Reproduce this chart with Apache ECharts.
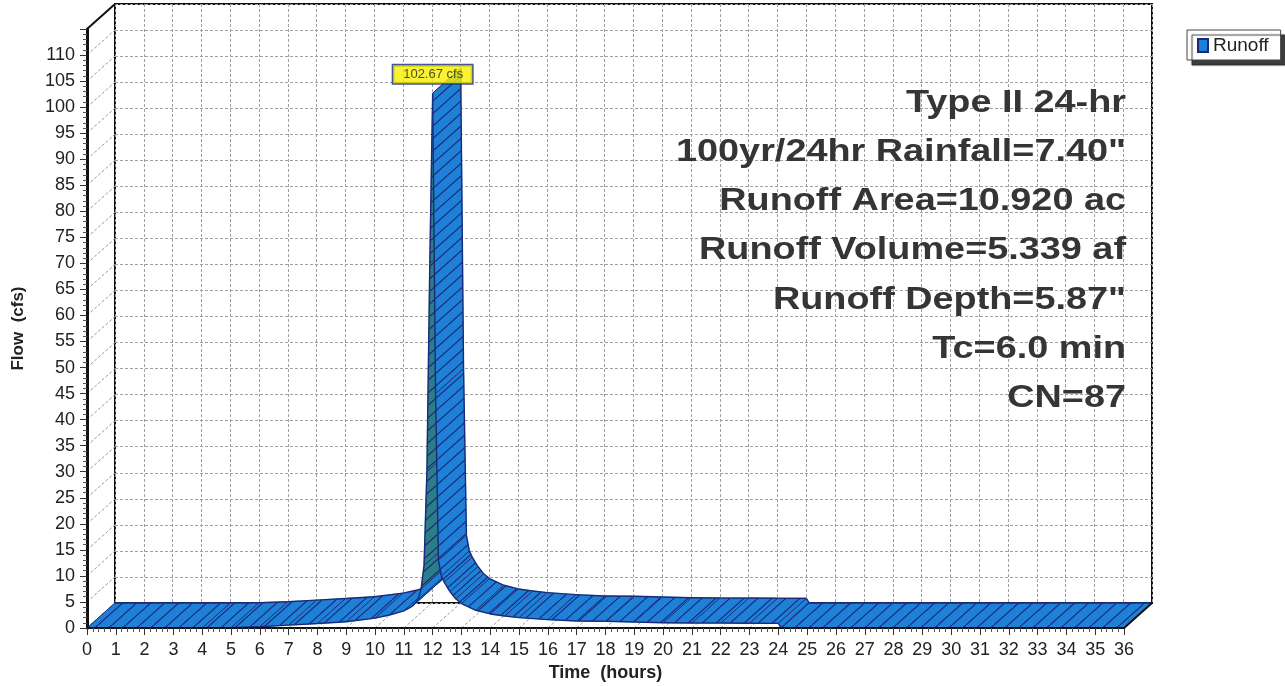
<!DOCTYPE html>
<html><head><meta charset="utf-8">
<script src="https://cdn.jsdelivr.net/npm/echarts@6/dist/echarts.min.js"></script>
<style>html,body{margin:0;padding:0;background:#fff}#c{width:1285px;height:686px}</style>
</head><body><div id="c"></div>
<script>
// ---- data ----
const hours  = [0, 4, 5, 6, 7, 8, 9, 10, 10.5, 11, 11.3, 11.5, 11.6, 11.7, 11.8, 11.9, 12.0, 12.1, 12.2, 12.3, 12.4, 12.6, 12.8, 13.0, 13.5, 14, 14.5, 15, 16, 17, 18, 19, 20, 21, 22, 23, 24.0, 24.1, 36];
const runoff = [0, 0, 0.05, 0.25, 0.55, 0.85, 1.2, 1.9, 2.5, 3.3, 4.2, 5.5, 7.5, 12, 30, 70, 102.67, 45, 13, 10, 8.8, 7.0, 5.6, 4.7, 3.4, 2.7, 2.3, 2.0, 1.6, 1.35, 1.3, 1.15, 1.0, 0.95, 0.95, 0.9, 0.9, 0, 0];
const flowTicks = [0,5,10,15,20,25,30,35,40,45,50,55,60,65,70,75,80,85,90,95,100,105,110];
const hourTicks = [0,1,2,3,4,5,6,7,8,9,10,11,12,13,14,15,16,17,18,19,20,21,22,23,24,25,26,27,28,29,30,31,32,33,34,35,36];
const infoLines = ['Type II 24-hr', '100yr/24hr Rainfall=7.40"', 'Runoff Area=10.920 ac', 'Runoff Volume=5.339 af', 'Runoff Depth=5.87"', 'Tc=6.0 min', 'CN=87'];
const seriesName = 'Runoff';
const peakUnit = ' cfs';
const X_MAX = 36, Y_MAX = 115;

// ---- style / layout ----
const DX = 28, DY = -25;           // 3D depth offset in px
const BLUE = '#1e80d6', TEAL = '#2b7d88', NAVY = '#1a2a78';
const FONT = '"Liberation Sans", Arial, sans-serif';

function hatch(bg) {
  const c = document.createElement('canvas');
  c.width = 28; c.height = 25;
  const g = c.getContext('2d');
  g.fillStyle = bg; g.fillRect(0, 0, 28, 25);
  g.strokeStyle = NAVY; g.lineWidth = 1.2;
  for (let x0 = -28; x0 <= 28; x0 += 14) { g.beginPath(); g.moveTo(x0, 25); g.lineTo(x0 + 28, 0); g.stroke(); }
  return c;
}
const bluePat = hatch(BLUE), tealPat = hatch(TEAL);

const segs = hours.slice(0, -1).map((t, i) => [t, runoff[i], hours[i + 1], runoff[i + 1]]);
let peakIdx = 0; runoff.forEach((v, i) => { if (v > runoff[peakIdx]) peakIdx = i; });

function renderRibbon(params, api) {
  const a = api.coord([api.value(0), api.value(1)]);
  const b = api.coord([api.value(2), api.value(3)]);
  const a2 = [a[0] + DX, a[1] + DY], b2 = [b[0] + DX, b[1] + DY];
  const slope = (api.value(3) - api.value(1)) / (api.value(2) - api.value(0));
  const steep = slope > 30;
  const children = [
    { type: 'polygon', shape: { points: [a, b, b2, a2] }, style: { fill: { image: steep ? tealPat : bluePat, repeat: 'repeat' }, stroke: steep ? TEAL : BLUE, lineWidth: 0.6 } },
    { type: 'polyline', shape: { points: [a, b] }, style: { stroke: NAVY, lineWidth: 1.4, fill: null } },
    { type: 'polyline', shape: { points: [a2, b2] }, style: { stroke: NAVY, lineWidth: 1.4, fill: null } },
    { type: 'line', shape: { x1: a[0], y1: a[1], x2: a2[0], y2: a2[1] }, style: { stroke: NAVY, lineWidth: 1 } }
  ];
  if (params.dataIndex === segs.length - 1) {
    children.push({ type: 'line', shape: { x1: b[0], y1: b[1], x2: b2[0], y2: b2[1] }, style: { stroke: NAVY, lineWidth: 1 } });
  }
  return { type: 'group', children };
}

function renderDepthLine(solid) {
  return function (params, api) {
    const p = api.coord([api.value(0), api.value(1)]);
    return { type: 'line', shape: { x1: p[0], y1: p[1], x2: p[0] + DX, y2: p[1] + DY },
      style: solid ? { stroke: '#111', lineWidth: 2 } : { stroke: '#9a9a9a', lineWidth: 1, lineDash: [3, 2] } };
  };
}

const chart = echarts.init(document.getElementById('c'), null, { renderer: 'canvas' });
const splitStyle = { show: true, lineStyle: { color: '#a0a0a0', width: 1, type: [3, 2] } };
chart.setOption({
  animation: false,
  backgroundColor: '#fff',
  textStyle: { fontFamily: FONT },
  grid: [
    { left: 87, right: 161, top: 29, bottom: 58, show: false, containLabel: false, outerBoundsMode: 'none' },
    { left: 87 + DX, right: 161 - DX, top: 29 + DY, bottom: 58 - DY, show: true, borderColor: '#111', borderWidth: 2, backgroundColor: 'transparent', containLabel: false, outerBoundsMode: 'none' }
  ],
  xAxis: [
    { gridIndex: 0, type: 'value', min: 0, max: X_MAX, interval: 1, z: 5,
      name: 'Time  (hours)', nameLocation: 'middle', nameGap: 36,
      nameTextStyle: { fontSize: 18, fontWeight: 'bold', color: '#222', fontFamily: FONT },
      axisLine: { show: true, lineStyle: { color: '#111', width: 2 } },
      axisTick: { show: true, length: 7, lineStyle: { color: '#333', width: 1 } },
      minorTick: { show: true, splitNumber: 5, length: 4, lineStyle: { color: '#555' } },
      axisLabel: { fontSize: 18, color: '#222', margin: 13, fontFamily: FONT },
      splitLine: { show: false } },
    { gridIndex: 1, type: 'value', min: 0, max: X_MAX, interval: 1,
      axisLine: { show: false }, axisTick: { show: false }, axisLabel: { show: false }, splitLine: splitStyle }
  ],
  yAxis: [
    { gridIndex: 0, type: 'value', min: 0, max: Y_MAX, interval: 5, z: 5,
      name: 'Flow  (cfs)', nameLocation: 'middle', nameGap: 60, nameRotate: 90,
      nameTextStyle: { fontSize: 17, fontWeight: 'bold', color: '#222', fontFamily: FONT },
      axisLine: { show: true, lineStyle: { color: '#111', width: 3 } },
      axisTick: { show: true, length: 7, lineStyle: { color: '#333', width: 1 } },
      minorTick: { show: true, splitNumber: 5, length: 4, lineStyle: { color: '#555' } },
      axisLabel: { fontSize: 18, color: '#222', margin: 12, showMaxLabel: false, fontFamily: FONT },
      splitLine: { show: false } },
    { gridIndex: 1, type: 'value', min: 0, max: Y_MAX, interval: 5,
      axisLine: { show: false }, axisTick: { show: false }, axisLabel: { show: false }, splitLine: splitStyle }
  ],
  legend: {
    data: [seriesName], left: 1187, top: 30, padding: [6, 12, 5, 10],
    itemWidth: 10, itemHeight: 13, itemGap: 6,
    backgroundColor: '#fff', borderColor: '#444', borderWidth: 1,
    shadowColor: 'rgba(40,40,40,0.9)', shadowBlur: 1, shadowOffsetX: 5, shadowOffsetY: 5,
    textStyle: { fontSize: 19, color: '#222', fontFamily: FONT },
    icon: 'rect', selectedMode: false
  },
  graphic: infoLines.map((t, i) => ({
    type: 'text', x: 1126, y: 103 + i * 49.3, z: 10, scaleX: 1.22,
    style: { text: t, align: 'right', verticalAlign: 'middle', font: 'bold 31px ' + FONT, fill: '#353535' }
  })),
  series: [
    { type: 'custom', xAxisIndex: 0, yAxisIndex: 0, z: 1, silent: true,
      data: flowTicks.map(v => [0, v]), renderItem: renderDepthLine(false) },
    { type: 'custom', xAxisIndex: 0, yAxisIndex: 0, z: 1, silent: true,
      data: hourTicks.map(h => [h, 0]), renderItem: renderDepthLine(false) },
    { type: 'custom', xAxisIndex: 0, yAxisIndex: 0, z: 6, silent: true,
      data: [[0, Y_MAX], [X_MAX, 0]], renderItem: renderDepthLine(true) },
    { name: seriesName, type: 'custom', xAxisIndex: 0, yAxisIndex: 0, z: 3,
      itemStyle: { color: BLUE, borderColor: NAVY, borderWidth: 1 },
      encode: { x: [0, 2], y: [1, 3] },
      data: segs, renderItem: renderRibbon },
    { type: 'scatter', xAxisIndex: 0, yAxisIndex: 0, z: 8, symbolSize: 0, silent: true,
      data: [[hours[peakIdx], runoff[peakIdx]]],
      label: { show: true, position: 'top', distance: 10,
        formatter: p => p.value[1].toFixed(2) + peakUnit,
        backgroundColor: '#f8f000', borderColor: NAVY, borderWidth: 1.5, padding: [3, 9, 2, 10],
        fontSize: 13, color: '#222', fontFamily: FONT } }
  ]
});
</script></body></html>
